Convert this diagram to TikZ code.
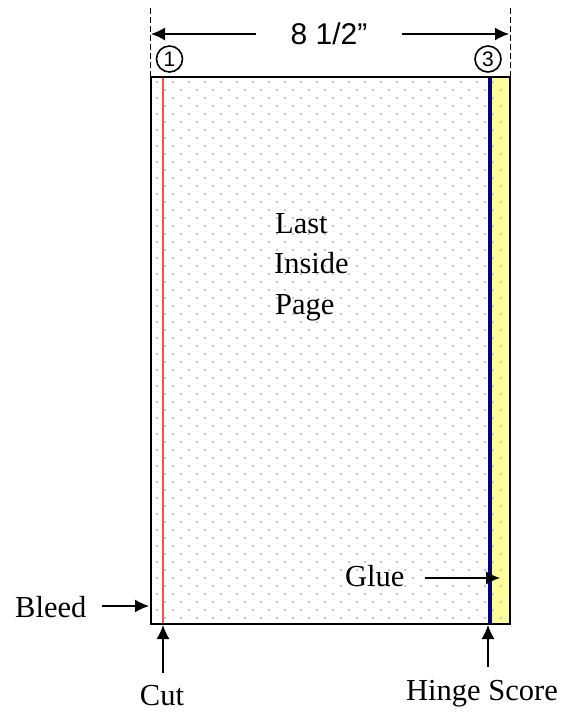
\documentclass[tikz,border=0pt]{standalone}
\usepackage{fontspec}
\setmainfont{Liberation Serif}
\newfontfamily\arialf{Liberation Sans}
\usetikzlibrary{arrows.meta}
\definecolor{dotc}{RGB}{200,200,200}
\definecolor{gluey}{RGB}{255,255,153}
\definecolor{cutred}{RGB}{255,80,80}
\definecolor{hingeblue}{RGB}{0,0,128}
\begin{document}
\begin{tikzpicture}[x=1pt,y=-1pt,
  lbl/.style={font=\fontsize{30.5}{34}\selectfont, inner sep=0pt, anchor=base west},
  arr/.style={line width=1.4pt, -{Latex[length=14pt,width=13pt]}},
  dimline/.style={line width=1pt, dash pattern=on 6pt off 3pt},
  circnum/.style={circle, draw, line width=1.6pt, minimum size=26pt, inner sep=0pt, font=\arialf\fontsize{21}{22}\selectfont}]
\useasboundingbox (0,0) rectangle (565,712);
% page
\fill[white] (151,77) rectangle (510,624);
\fill[gluey] (492,77) rectangle (510,624);
\foreach \r in {0,...,67} {
  \pgfmathsetmacro\yy{82+8*\r}
  \pgfmathsetmacro\xo{mod(\r,2)==1 ? 164.7 : 156.7}
  \foreach \c in {0,...,21} {
    \fill[dotc] (\xo+16*\c-0.8,\yy-0.8) rectangle ++(1.6,1.6);
  }
}
\draw[cutred, line width=2pt] (162.5,77) -- (162.5,624);
\draw[hingeblue, line width=4pt] (490,77) -- (490,624);
\draw[line width=1.5pt] (151,77) rectangle (510,624);
% dimension
\draw[dimline] (150,8) -- (150,77);
\draw[dimline] (510,8) -- (510,77);
\node[font=\arialf\fontsize{30}{34}\selectfont, inner xsep=34pt, inner ysep=0pt] (dim) at (329,34) {8 1/2”};
\coordinate (dl) at (151,34);
\coordinate (dr) at (509,34);
\draw[arr] (dim) -- (dl);
\draw[arr] (dim) -- (dr);
\node[circnum] (c1) at (169.5,59) {1};
\node[circnum] (c3) at (488,59) {3};
% texts
\node[lbl] (last) at (275,233) {Last};
\node[lbl] (inside) at (274,273.5) {Inside};
\node[lbl] (pg) at (275,314) {Page};
\node[lbl] (glue) at (345,586) {Glue};
\node[lbl] (bleed) at (15,617) {Bleed};
\node[lbl, anchor=base] (cut) at (162,705) {Cut};
\node[lbl] (hinge) at (406,700) {Hinge Score};
% arrows
\coordinate (glueT) at (500,578);
\coordinate (bleedT) at (149,606);
\coordinate (cutT) at (163,625);
\coordinate (hingeT) at (488,625);
\path ([xshift=20pt]glue.east) coordinate (gs);
\draw[arr] (gs |- glueT) -- (glueT);
\path ([xshift=15pt]bleed.east) coordinate (bs);
\draw[arr] (bs |- bleedT) -- (bleedT);
\path ([yshift=12pt]cut.north) coordinate (cs);
\draw[arr] (cs -| cutT) -- (cutT);
\path ([yshift=13pt]hinge.north) coordinate (hs);
\draw[arr] (hs -| hingeT) -- (hingeT);
\end{tikzpicture}
\end{document}
